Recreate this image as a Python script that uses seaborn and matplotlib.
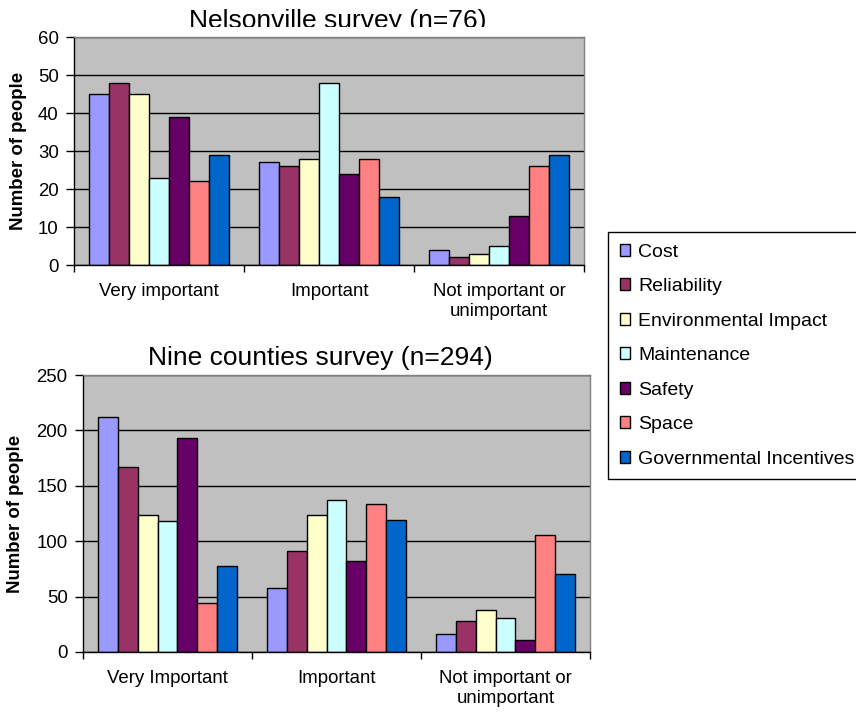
import matplotlib
matplotlib.use("Agg")
import matplotlib.pyplot as plt
import seaborn as sns
import pandas as pd
from matplotlib.patches import Patch, Rectangle

# Survey answers: how important each factor is
factors = ["Cost", "Reliability", "Environmental Impact", "Maintenance",
           "Safety", "Space", "Governmental Incentives"]
colors = ["#9999FF", "#993366", "#FFFFCC", "#CCFFFF",
          "#660066", "#FF8080", "#0066CC"]

nelson_levels = ["Very important", "Important", "Not important or\nunimportant"]
nelson_very = [45, 48, 45, 23, 39, 22, 29]
nelson_imp = [27, 26, 28, 48, 24, 28, 18]
nelson_not = [4, 2, 3, 5, 13, 26, 29]

nine_levels = ["Very Important", "Important", "Not important or\nunimportant"]
nine_very = [212, 167, 124, 118, 193, 44, 78]
nine_imp = [58, 91, 124, 137, 82, 134, 119]
nine_not = [16, 28, 38, 31, 11, 106, 70]

nelson_ticks = [0, 10, 20, 30, 40, 50, 60]
nine_ticks = [0, 50, 100, 150, 200, 250]


def long_table(levels, columns):
    rows = []
    for level, vals in zip(levels, columns):
        for f, v in zip(factors, vals):
            rows.append({"level": level, "factor": f, "count": v})
    return pd.DataFrame(rows)


sns.set_style("white")
plt.rcParams["font.family"] = ["Liberation Sans", "DejaVu Sans"]
plt.rcParams["text.color"] = "black"
plt.rcParams["axes.labelcolor"] = "black"
plt.rcParams["xtick.color"] = "black"
plt.rcParams["ytick.color"] = "black"

fig = plt.figure(figsize=(8.56, 7.15), dpi=100)
W, H = 856, 715


def px_axes(left, top, right, bottom):
    return fig.add_axes([left / W, 1 - bottom / H, (right - left) / W, (bottom - top) / H])


ax1 = px_axes(74, 37, 584, 265)
ax2 = px_axes(83, 375, 590, 652)


def draw(ax, df, levels, ticks, label_x):
    sns.barplot(data=df, x="level", y="count", hue="factor", order=levels,
                hue_order=factors, palette=colors, saturation=1, width=0.82,
                edgecolor="black", linewidth=1, legend=False, ax=ax,
                errorbar=None)
    ax.set_facecolor("#C0C0C0")
    ax.set_xlim(-0.5, 2.5)
    ax.set_ylim(ticks[0], ticks[-1])
    ax.set_yticks(ticks)
    ax.yaxis.grid(True, color="black", linewidth=1)
    ax.set_axisbelow(True)
    for side in ("top", "right"):
        ax.spines[side].set_color("#808080")
        ax.spines[side].set_linewidth(1)
    for side in ("left", "bottom"):
        ax.spines[side].set_color("black")
        ax.spines[side].set_linewidth(1)
    ax.set_xticks(range(len(levels)))
    ax.set_xticklabels(levels)
    ax.set_xticks([-0.5, 0.5, 1.5, 2.5], minor=True)
    ax.tick_params(axis="x", which="major", length=0, pad=13, labelsize=13.4,
                   labelcolor="black")
    ax.tick_params(axis="x", which="minor", length=5, width=1,
                   direction="out", color="black", bottom=True)
    ax.tick_params(axis="y", length=6, width=1, direction="out",
                   color="black", pad=5, labelsize=13.4, left=True,
                   labelcolor="black")
    ax.set_xlabel("")
    ax.set_ylabel("Number of people", fontsize=13.4, fontweight="bold",
                  color="black")
    ax.yaxis.set_label_coords(label_x, 0.5)


draw(ax1, long_table(nelson_levels, [nelson_very, nelson_imp, nelson_not]),
     nelson_levels, nelson_ticks, -0.092)
draw(ax2, long_table(nine_levels, [nine_very, nine_imp, nine_not]),
     nine_levels, nine_ticks, -0.116)

# Titles
t1 = fig.text(338 / W, 1 - 28 / H, "Nelsonville survey (n=76)", ha="center",
              va="baseline", fontsize=19, color="black")
t1.set_clip_path(Rectangle((0, 1 - 27 / H), 1, 27 / H, transform=fig.transFigure))
fig.text(320 / W, 1 - 365 / H, "Nine counties survey (n=294)", ha="center",
         va="baseline", fontsize=19, color="black")

# Shared legend
handles = [Patch(facecolor=c, edgecolor="black", linewidth=1) for c in colors]
leg = fig.legend(handles, factors, loc="upper left",
                 bbox_to_anchor=(608 / W, 1 - 232 / H), borderaxespad=0,
                 fontsize=14, frameon=True, fancybox=False, framealpha=1,
                 edgecolor="black", handlelength=0.55, handleheight=0.55,
                 handletextpad=0.4, labelspacing=0.9, borderpad=0.6,
                 labelcolor="black")
leg.get_frame().set_linewidth(1)

fig.savefig("out.png", dpi=100)
